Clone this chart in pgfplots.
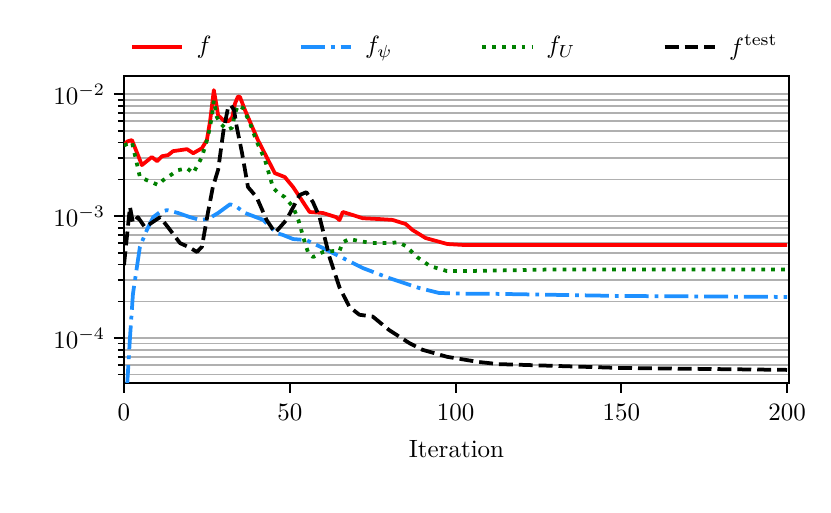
\documentclass[border=0pt]{standalone}
\usepackage{pgfplots}
\pgfplotsset{compat=1.18}
\definecolor{mplred}{RGB}{255,0,0}
\definecolor{mplblue}{RGB}{30,144,255}
\definecolor{mplgreen}{RGB}{0,128,0}
\definecolor{gridgray}{RGB}{176,176,176}
\begin{document}
\begin{tikzpicture}
\useasboundingbox (0,0) rectangle (332.4pt,205.2pt);
\begin{axis}[
  at={(49.6pt,52pt)}, anchor=south west,
  width=266pt, height=122.8pt, scale only axis,
  xmin=0, xmax=200.6,
  ymode=log, ymin=4.27e-5, ymax=1.41e-2,
  xtick={0,50,100,150,200},
  ytick={1e-4,1e-3,1e-2},
  minor ytick={5e-5,6e-5,7e-5,8e-5,9e-5,2e-4,3e-4,4e-4,5e-4,6e-4,7e-4,8e-4,9e-4,2e-3,3e-3,4e-3,5e-3,6e-3,7e-3,8e-3,9e-3},
  xtick pos=bottom, ytick pos=left,
  tick align=outside,
  major tick length=4pt, minor tick length=2.4pt,
  every tick/.style={black, line width=0.8pt},
  minor tick style={line width=0.6pt},
  axis line style={line width=0.8pt},
  ymajorgrids, yminorgrids,
  major grid style={gridgray, line width=0.8pt},
  minor grid style={gridgray, line width=0.6pt},
  xticklabel style={yshift=-1pt},
  xlabel={Iteration},
  xlabel style={yshift=-1pt},
  legend columns=4,
  legend style={at={(0.5,1.0945)}, anchor=center, draw=none, fill=none,
    /tikz/every even column/.append style={column sep=33pt},
    font=\normalsize},
  legend image code/.code={\path (23pt,0pt); \draw[#1] plot coordinates {(0pt,0pt) (20pt,0pt)};},
  legend cell align=left,
  every axis plot/.append style={line width=1.5pt, line join=round},
]
\addplot[mplred, solid] coordinates {
(0,3.82e-3)(1,4.1e-3)(2.4,4.2e-3)(5.4,2.62e-3)(8.4,3.05e-3)(10,2.82e-3)(11.5,3.1e-3)(13.3,3.16e-3)(14.8,3.41e-3)(19,3.54e-3)(20.9,3.28e-3)(23.5,3.6e-3)(25,4.2e-3)(26,6.1e-3)(27.1,1.08e-2)(27.7,8.7e-3)(28.4,6.7e-3)(30,6.1e-3)(31.5,6.0e-3)(32.6,6.4e-3)(33.5,8.4e-3)(34.4,9.6e-3)(35,9.45e-3)(36.5,7.4e-3)(40.4,4.2e-3)(45.5,2.25e-3)(48.5,2.09e-3)(51,1.73e-3)(56,1.08e-3)(60,1.06e-3)(64,9.8e-4)(65,9.27e-4)(66,1.08e-3)(69,1.02e-3)(72,9.6e-4)(77,9.45e-4)(81,9.3e-4)(85,8.6e-4)(87,7.7e-4)(91,6.6e-4)(97.5,5.9e-4)(103,5.78e-4)(113,5.78e-4)(150,5.8e-4)(200,5.78e-4)
};
\addlegendentry{$f$}
\addplot[mplblue, dash pattern=on 9.6pt off 2.4pt on 1.5pt off 2.4pt] coordinates {
(0,1.8e-5)(1,4.3e-5)(1.8,1.0e-4)(2.7,2.3e-4)(4.8,5.6e-4)(6.9,7.7e-4)(8.8,9.8e-4)(10.9,1.08e-3)(13,1.12e-3)(16.3,1.06e-3)(19.9,9.8e-4)(22.9,9.3e-4)(25.3,9.45e-4)(28.4,1.06e-3)(32,1.25e-3)(34,1.19e-3)(36.5,1.06e-3)(42,9.3e-4)(46,7.26e-4)(48,6.99e-4)(51,6.48e-4)(55,6.35e-4)(60,5.47e-4)(66,4.53e-4)(72,3.75e-4)(80,3.1e-4)(89,2.57e-4)(95,2.34e-4)(103.5,2.3e-4)(112.5,2.3e-4)(150,2.21e-4)(200,2.17e-4)
};
\addlegendentry{$f_\psi$}
\addplot[mplgreen, dash pattern=on 1.5pt off 2.475pt] coordinates {
(0,3.8e-3)(2.4,4.05e-3)(4.8,2.09e-3)(6.9,1.97e-3)(10.3,1.8e-3)(11.8,1.97e-3)(16.3,2.38e-3)(19,2.47e-3)(20.9,2.25e-3)(23.5,3.05e-3)(25.3,4.45e-3)(26.5,6.5e-3)(27.1,8.9e-3)(28,6.5e-3)(29,5.8e-3)(31,5.1e-3)(32.6,5.3e-3)(33.5,7.0e-3)(34.4,8.1e-3)(35.9,7.7e-3)(38,5.8e-3)(40,4.1e-3)(42.5,2.9e-3)(45,1.7e-3)(46.5,1.55e-3)(48.5,1.43e-3)(51,1.19e-3)(52.6,9.3e-4)(54.6,6.0e-4)(55.5,5.07e-4)(57,4.61e-4)(60,5.07e-4)(63,5.16e-4)(65,5.16e-4)(66,6.1e-4)(68,6.48e-4)(71,6.23e-4)(75,6.0e-4)(80,6.0e-4)(82.7,6.1e-4)(85,5.68e-4)(88.4,4.61e-4)(92.3,3.89e-4)(97.4,3.54e-4)(103.5,3.54e-4)(130,3.65e-4)(200,3.65e-4)
};
\addlegendentry{$f_U$}
\addplot[black, dash pattern=on 5.55pt off 2.4pt] coordinates {
(0,3.96e-4)(1.8,1.19e-3)(2.7,8.8e-4)(4.2,9.8e-4)(6.3,8.1e-4)(10.9,9.8e-4)(13.9,7.7e-4)(16.9,6.0e-4)(19.9,5.5e-4)(22,5.07e-4)(23.5,5.6e-4)(25.3,1.06e-3)(26.8,1.73e-3)(28.4,2.4e-3)(30,5.0e-3)(31.4,7.8e-3)(32.3,8.1e-3)(33.2,7.4e-3)(34,5.4e-3)(35.6,3.3e-3)(37.4,1.73e-3)(40,1.43e-3)(43,9.3e-4)(45.6,7.3e-4)(49,9.3e-4)(53,1.49e-3)(55,1.57e-3)(57,1.3e-3)(59,9.8e-4)(62,4.6e-4)(65,2.6e-4)(68,1.8e-4)(71,1.55e-4)(75,1.5e-4)(80,1.16e-4)(86,9.1e-5)(90,8.0e-5)(97.5,7.0e-5)(107,6.35e-5)(113,6.1e-5)(150,5.67e-5)(200,5.47e-5)
};
\addlegendentry{$f^{\mathrm{test}}$}
\end{axis}
\end{tikzpicture}
\end{document}
